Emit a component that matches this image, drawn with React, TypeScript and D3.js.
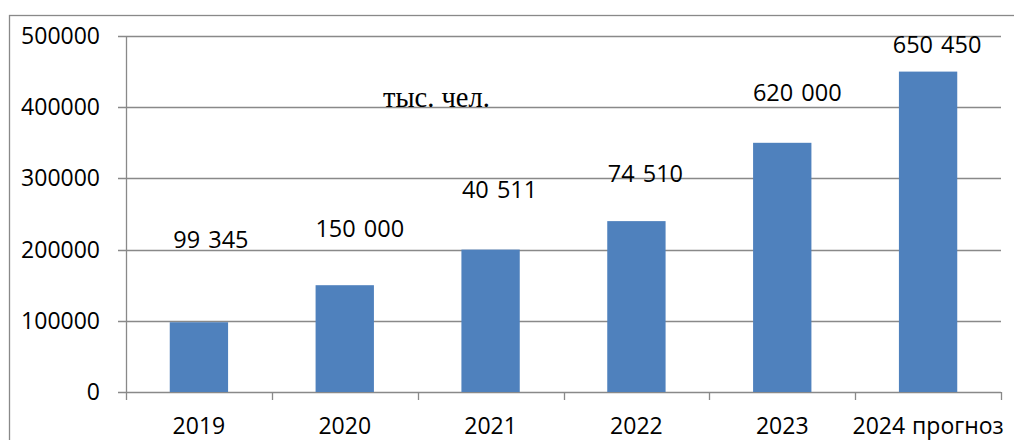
import React from "react";
import * as d3 from "d3";

const years = ["2019", "2020", "2021", "2022", "2023", "2024 прогноз"];
const values = [98000, 150000, 200000, 240000, 350000, 450000];
const labels = ["99 345", "150 000", "40 511", "74 510", "620 000", "650 450"];
const yTicks = [0, 100000, 200000, 300000, 400000, 500000];
const unitText = "тыс. чел.";

// manual label placement (offset from bar top centre), like in the original
const labelShift = [
  [12, -74],
  [15, -48],
  [9, -52],
  [9, -39],
  [15, -42],
  [9, -19],
];

const W = 1014;
const H = 440;
const left = 126;
const right = 1001;
const top = 36;
const bottom = 392;
const grid = "#898989";
const font = "'Open Sans', sans-serif";

const App = () => {
  const x = d3.scaleBand().domain(years).range([left, right]).paddingInner(0.6).paddingOuter(0.3);
  const xCat = d3.scaleBand().domain(years).range([left, right]);
  const y = d3.scaleLinear().domain([0, 500000]).range([bottom, top]);

  return (
    <svg
      width={W}
      height={H}
      style={{ position: "absolute", left: 0, top: 0, background: "#fff" }}
    >
      <rect x={9.5} y={15.5} width={1100} height={500} fill="none" stroke={grid} strokeWidth={1.3} />

      {/* grid + y ticks */}
      {yTicks.map((t) => (
        <g key={t}>
          <line x1={left - 8} x2={right} y1={Math.round(y(t)) + 0.5} y2={Math.round(y(t)) + 0.5} stroke={grid} strokeWidth={1.3} />
          <text x={100} y={y(t) + 8} textAnchor="end" fontFamily={font} fontSize={23} fill="#000">
            {t}
          </text>
        </g>
      ))}

      {/* y axis line */}
      <line x1={left + 0.5} x2={left + 0.5} y1={top} y2={bottom + 8} stroke={grid} strokeWidth={1.3} />

      {/* x ticks */}
      {years.map((d, i) => (
        <line
          key={"t" + i}
          x1={Math.round(xCat(d)! + xCat.bandwidth()) + 0.5}
          x2={Math.round(xCat(d)! + xCat.bandwidth()) + 0.5}
          y1={bottom}
          y2={bottom + 8}
          stroke={grid}
          strokeWidth={1.3}
        />
      ))}

      {/* bars */}
      {years.map((d, i) => (
        <rect
          key={"b" + i}
          x={x(d)}
          y={y(values[i])}
          width={x.bandwidth()}
          height={y(0) - y(values[i])}
          fill="#4f81bd"
        />
      ))}

      {/* category labels */}
      {years.map((d, i) => (
        <text
          key={"c" + i}
          x={xCat(d)! + xCat.bandwidth() / 2}
          y={434}
          textAnchor="middle"
          fontFamily={font}
          fontSize={23}
          wordSpacing={1}
          fill="#000"
        >
          {d}
        </text>
      ))}

      {/* value labels */}
      {years.map((d, i) => (
        <text
          key={"l" + i}
          x={x(d)! + x.bandwidth() / 2 + labelShift[i][0]}
          y={y(values[i]) + labelShift[i][1]}
          textAnchor="middle"
          fontFamily={font}
          fontSize={23.5}
          wordSpacing={2}
          fill="#000"
        >
          {labels[i]}
        </text>
      ))}

      <text x={383} y={107} fontFamily="'Liberation Serif', 'Times New Roman', serif" fontSize={28.5} fill="#000">
        {unitText}
      </text>
    </svg>
  );
};

export default App;
